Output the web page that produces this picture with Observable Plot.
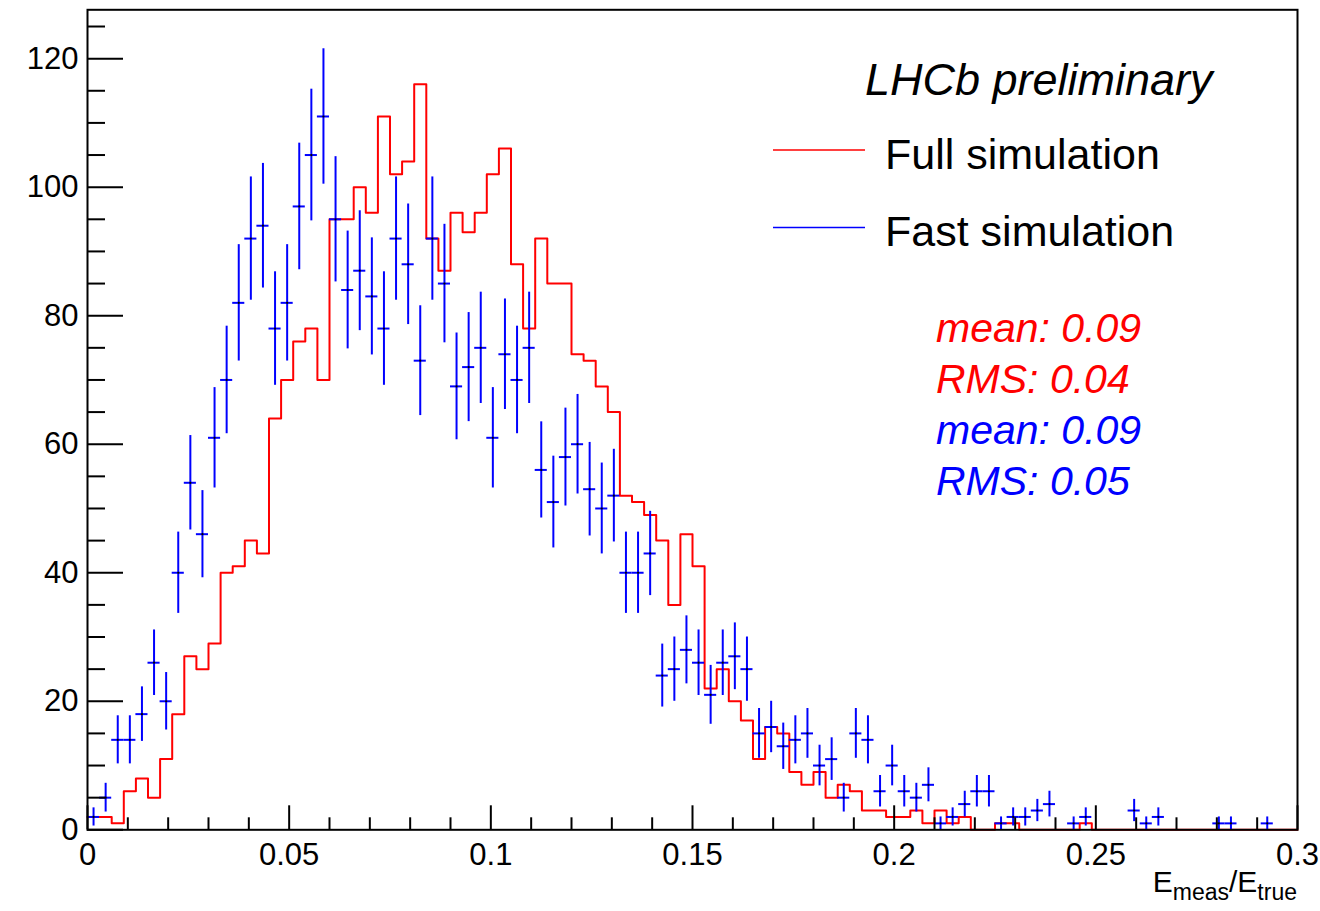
<!DOCTYPE html>
<html>
<head>
<meta charset="utf-8">
<script src="https://cdn.jsdelivr.net/npm/d3@7"></script>
<script src="https://cdn.jsdelivr.net/npm/@observablehq/plot@0.6"></script>
<style>
  body { margin: 0; background: #fff; }
  svg { display: block; }
</style>
</head>
<body>
<div id="chart"></div>
<script>
// ---------------- data ----------------
const binWidth = 0.003;   // 100 bins on [0, 0.3]
const fullSim = [
  2, 2, 1, 6, 8, 5, 11, 18, 27, 25,
  29, 40, 41, 45, 43, 64, 70, 76, 78, 70,
  95, 95, 100, 96, 111, 102, 104, 116, 92, 87,
  96, 93, 96, 102, 106, 88, 78, 92, 85, 85,
  74, 73, 69, 65, 52, 51, 49, 45, 35, 46,
  41, 22, 25, 20, 17, 11, 16, 15, 9, 7,
  9, 5, 7, 6, 3, 3, 2, 2, 3, 1,
  3, 1, 2, 0, 0, 1, 1, 0, 0, 0,
  0, 0, 1, 0, 0, 0, 0, 0, 0, 0,
  0, 0, 0, 0, 0, 0, 0, 0, 0, 0
];
const fastSim = [
  2, 5, 14, 14, 18, 26, 20, 40, 54, 46,
  61, 70, 82, 92, 94, 78, 82, 97, 105, 111,
  95, 84, 87, 83, 78, 92, 88, 73, 92, 85,
  69, 72, 75, 61, 74, 70, 75, 56, 51, 58,
  60, 53, 50, 52, 40, 40, 43, 24, 25, 28,
  26, 21, 26, 27, 25, 15, 16, 13, 14, 15,
  10, 11, 5, 15, 14, 6, 10, 6, 5, 7,
  1, 2, 4, 6, 6, 1, 2, 2, 3, 4,
  0, 1, 2, 0, 0, 0, 3, 1, 2, 0,
  0, 0, 0, 1, 1, 0, 0, 1, 0, 0
];
const xMajorTicks = [0, 0.05, 0.1, 0.15, 0.2, 0.25, 0.3];
const xTickLabels = ["0", "0.05", "0.1", "0.15", "0.2", "0.25", "0.3"];
const xMinorTicks = [0.01,0.02,0.03,0.04,0.06,0.07,0.08,0.09,0.11,0.12,0.13,0.14,
                     0.16,0.17,0.18,0.19,0.21,0.22,0.23,0.24,0.26,0.27,0.28,0.29];
const yMajorTicks = [0, 20, 40, 60, 80, 100, 120];
const yMinorTicks = [5,10,15,25,30,35,45,50,55,65,70,75,85,90,95,105,110,115,125];
const yMax = 127.6;
const legendTitle = "LHCb preliminary";
const seriesNames = ["Full simulation", "Fast simulation"];
const seriesColors = ["#ff0000", "#0000ff"];
const statsFull = ["mean: 0.09", "RMS: 0.04"];
const statsFast = ["mean: 0.09", "RMS: 0.05"];

// ---------------- derived tables ----------------
const fullSteps = fullSim.map((v, i) => ({x: i * binWidth, y: v}))
  .concat([{x: fullSim.length * binWidth, y: fullSim[fullSim.length - 1]}]);
const fastBins = fastSim.map((v, i) => ({
  x0: i * binWidth, x1: (i + 1) * binWidth, xc: (i + 0.5) * binWidth,
  v, e: Math.sqrt(v)
})).filter(d => d.v > 0);

// ---------------- layout ----------------
const W = 1320, H = 911;
const mL = 87, mR = 23, mT = 9.3, mB = 81.7;
const plotW = W - mL - mR, plotH = H - mT - mB;
const FONT = "'Liberation Sans', Arial, Helvetica, sans-serif";

const chart = Plot.plot({
  width: W, height: H,
  marginLeft: mL, marginRight: mR, marginTop: mT, marginBottom: mB,
  style: {fontFamily: FONT, fontSize: "31px", color: "black", background: "white"},
  x: {domain: [0, 0.3]},
  y: {domain: [0, yMax]},
  marks: [
    Plot.line(fullSteps, {x: "x", y: "y", curve: "step-after", stroke: seriesColors[0], strokeWidth: 2}),
    Plot.ruleX(fastBins, {x: "xc", y1: d => d.v - d.e, y2: d => d.v + d.e, stroke: seriesColors[1], strokeWidth: 2}),
    Plot.ruleY(fastBins, {y: "v", x1: "x0", x2: "x1", stroke: seriesColors[1], strokeWidth: 2}),
    Plot.dot(fastBins, {x: "xc", y: "v", r: 1.1, fill: "black", stroke: null}),
    Plot.ruleX(xMinorTicks, {x: d => d, insetTop: plotH - 12, stroke: "black", strokeWidth: 2}),
    Plot.ruleX(xMajorTicks, {x: d => d, insetTop: plotH - 24, stroke: "black", strokeWidth: 2}),
    Plot.ruleY(yMinorTicks, {y: d => d, insetRight: plotW - 18, stroke: "black", strokeWidth: 2}),
    Plot.ruleY(yMajorTicks, {y: d => d, insetRight: plotW - 36, stroke: "black", strokeWidth: 2}),
    Plot.axisX({ticks: xMajorTicks, tickSize: 0, tickPadding: 13, label: null,
                tickFormat: d => xTickLabels[xMajorTicks.indexOf(d)]}),
    Plot.axisY({ticks: yMajorTicks, tickSize: 0, tickPadding: 9, label: null}),
    Plot.frame({stroke: "black", strokeWidth: 2})
  ]
});
document.getElementById("chart").appendChild(chart);

// ---------------- annotations ----------------
const svg = d3.select(chart);
const g = svg.append("g").attr("font-family", FONT).attr("text-anchor", "start");

// x-axis title  E_meas / E_true
const xt = g.append("text").attr("x", 1297).attr("y", 892).attr("text-anchor", "end")
  .attr("font-size", 30).attr("fill", "black");
xt.append("tspan").text("E");
xt.append("tspan").attr("font-size", 23).attr("dy", 8).text("meas");
xt.append("tspan").attr("dy", -8).text("/E");
xt.append("tspan").attr("font-size", 23).attr("dy", 8).text("true");

// legend
g.append("text").attr("x", 865).attr("y", 95).attr("font-size", 45)
  .attr("font-style", "italic").attr("fill", "black").text(legendTitle);
const legendY = [150, 227.5];
seriesNames.forEach((name, i) => {
  g.append("line").attr("x1", 773).attr("x2", 865).attr("y1", legendY[i]).attr("y2", legendY[i])
    .attr("stroke", seriesColors[i]).attr("stroke-width", 1.6);
  g.append("text").attr("x", 885).attr("y", legendY[i] + 18.5).attr("font-size", 43)
    .attr("fill", "black").text(name);
});

// statistics
const statLines = [
  {t: statsFull[0], c: seriesColors[0]}, {t: statsFull[1], c: seriesColors[0]},
  {t: statsFast[0], c: seriesColors[1]}, {t: statsFast[1], c: seriesColors[1]}
];
statLines.forEach((s, i) => {
  g.append("text").attr("x", 936).attr("y", 342 + i * 51).attr("font-size", 41)
    .attr("font-style", "italic").attr("fill", s.c).text(s.t);
});
</script>
</body>
</html>
